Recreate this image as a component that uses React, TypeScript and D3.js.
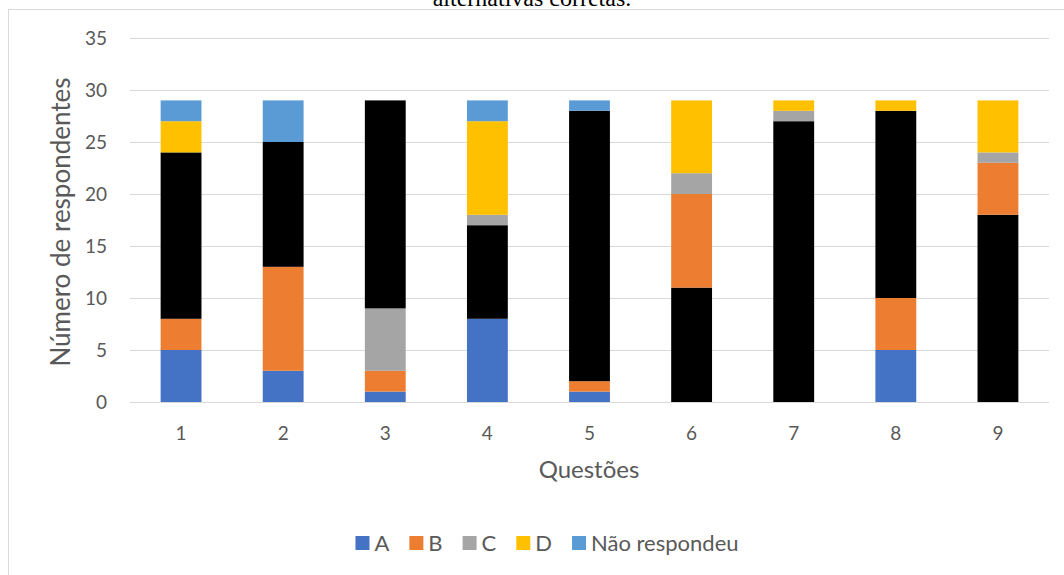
import React, { useEffect, useRef } from "react";
import * as d3 from "d3";

const questions = ["1", "2", "3", "4", "5", "6", "7", "8", "9"];
const seriesNames = ["A", "B", "C", "D", "Não respondeu"];
const seriesKeys = ["A", "B", "C", "D", "NR"];
const seriesColors = ["#4472C4", "#ED7D31", "#A5A5A5", "#FFC000", "#5B9BD5"];
const valuesA = [5, 3, 1, 8, 1, 11, 27, 5, 18];
const valuesB = [3, 10, 2, 9, 1, 9, 0, 5, 5];
const valuesC = [16, 12, 6, 1, 26, 2, 1, 18, 1];
const valuesD = [3, 0, 20, 9, 0, 7, 1, 1, 5];
const valuesNR = [2, 4, 0, 2, 1, 0, 0, 0, 0];
const correctAnswer = ["C", "C", "D", "B", "C", "A", "A", "C", "A"];
const yTicks = [0, 5, 10, 15, 20, 25, 30, 35];
const titleText = "alternativas corretas.";
const yTitle = "Número de respondentes";
const xTitle = "Questões";

const FONT = "Lato, 'Open Sans', sans-serif";

export default function App() {
  const ref = useRef<SVGSVGElement | null>(null);

  useEffect(() => {
    const svg = d3.select(ref.current);
    svg.selectAll("*").remove();
    const W = 1064, H = 575;

    const table = questions.map((q, i) => ({
      q,
      A: valuesA[i],
      B: valuesB[i],
      C: valuesC[i],
      D: valuesD[i],
      NR: valuesNR[i],
      correct: correctAnswer[i],
    }));

    svg.append("rect").attr("width", W).attr("height", H).attr("fill", "#fff");

    // chart border
    svg.append("rect")
      .attr("x", 8.5).attr("y", 9.5)
      .attr("width", W + 20).attr("height", H + 20)
      .attr("fill", "none").attr("stroke", "#D9D9D9").attr("stroke-width", 1);

    // title (cut off at the top, as in the source)
    svg.append("text")
      .attr("x", 532).attr("y", 6)
      .attr("text-anchor", "middle")
      .attr("font-family", "'Liberation Serif', 'Times New Roman', serif")
      .attr("font-size", 24)
      .attr("fill", "#000")
      .text(titleText);

    const x = d3.scaleBand<string>().domain(questions).range([130, 1049]).paddingInner(0.6).paddingOuter(0.3);
    const y = d3.scaleLinear().domain([0, 35]).range([402, 38]);

    // gridlines
    svg.append("g").selectAll("line").data(yTicks).join("line")
      .attr("x1", 130).attr("x2", 1049)
      .attr("y1", (d) => Math.round(y(d)) + 0.5).attr("y2", (d) => Math.round(y(d)) + 0.5)
      .attr("stroke", "#D9D9D9").attr("stroke-width", 1);

    // y tick labels
    svg.append("g").selectAll("text").data(yTicks).join("text")
      .attr("x", 107).attr("y", (d) => y(d))
      .attr("dy", "0.35em")
      .attr("text-anchor", "end")
      .attr("font-family", FONT).attr("font-size", 19).attr("fill", "#595959")
      .text((d) => String(d));

    // stacked bars
    const stack = d3.stack<any>().keys(seriesKeys);
    const layers = stack(table);
    layers.forEach((layer, li) => {
      svg.append("g").selectAll("rect").data(layer).join("rect")
        .attr("x", (d: any) => x(d.data.q)!)
        .attr("width", x.bandwidth())
        .attr("y", (d: any) => y(d[1]))
        .attr("height", (d: any) => Math.max(0, y(d[0]) - y(d[1])))
        .attr("fill", (d: any) => (d.data.correct === seriesKeys[li] ? "#000000" : seriesColors[li]));
    });

    // x tick labels
    svg.append("g").selectAll("text").data(questions).join("text")
      .attr("x", (d) => x(d)! + x.bandwidth() / 2)
      .attr("y", 433).attr("dy", "0.35em")
      .attr("text-anchor", "middle")
      .attr("font-family", FONT).attr("font-size", 19).attr("fill", "#595959")
      .text((d) => d);

    // axis titles
    svg.append("text")
      .attr("transform", `translate(70,222) rotate(-90)`)
      .attr("text-anchor", "middle")
      .attr("font-family", FONT).attr("font-size", 26).attr("fill", "#595959")
      .text(yTitle);

    svg.append("text")
      .attr("x", 589).attr("y", 470).attr("dy", "0.35em")
      .attr("text-anchor", "middle")
      .attr("font-family", FONT).attr("font-size", 24).attr("fill", "#595959")
      .text(xTitle);

    // legend
    const lg = svg.append("g");
    const items = seriesNames.map((name, i) => {
      const g = lg.append("g");
      g.append("rect").attr("x", 0).attr("y", -7).attr("width", 14).attr("height", 14).attr("fill", seriesColors[i]);
      const t = g.append("text").attr("x", 19).attr("y", 0).attr("dy", "0.35em")
        .attr("font-family", FONT).attr("font-size", 22).attr("fill", "#595959").text(name);
      const w = 19 + (t.node() as SVGTextElement).getComputedTextLength();
      return { g, w };
    });
    const gap = 20;
    const total = items.reduce((s, it) => s + it.w, 0) + gap * (items.length - 1);
    let cx = 547 - total / 2;
    items.forEach((it) => {
      it.g.attr("transform", `translate(${cx},543)`);
      cx += it.w + gap;
    });
  }, []);

  return (
    <svg
      ref={ref}
      width={1064}
      height={575}
      style={{ position: "absolute", left: 0, top: 0, display: "block" }}
    />
  );
}
